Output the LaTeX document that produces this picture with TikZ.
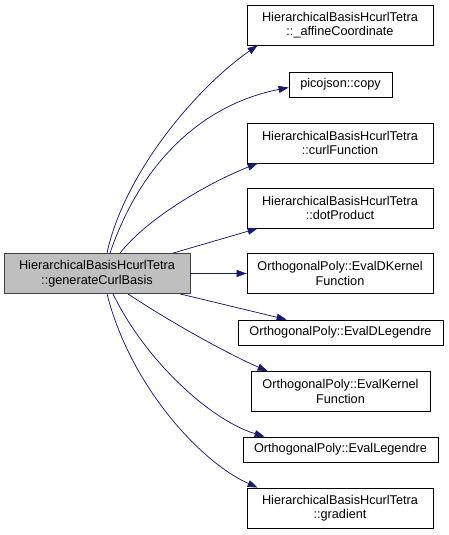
\documentclass[tikz,border=0pt]{standalone}
\usepackage{fontspec}
\setmainfont{Liberation Sans}
\usetikzlibrary{arrows.meta,positioning,calc}
\definecolor{edgeblue}{HTML}{191970}
\definecolor{rootfill}{HTML}{BFBFBF}

\begin{document}
\begin{tikzpicture}[
    x=1pt,y=-1pt,
    every node/.style={font=\fontsize{12.7}{14.5}\selectfont},
    fn/.style={draw=black,line width=0.8pt,inner sep=0pt,align=center,minimum width=186pt,minimum height=40pt},
    fnone/.style={fn,minimum height=25pt},
    arr/.style={-{Triangle[length=10pt,width=7pt]},edgeblue,line width=0.75pt}
]
\useasboundingbox (0,0) rectangle (448,535);
\node[fn,fill=rootfill,draw=black!75] (root) at (97,273.5) {HierarchicalBasisHcurlTetra\\::generateCurlBasis};
\node[fn] (affine) at (340,25) {HierarchicalBasisHcurlTetra\\::\_affineCoordinate};
\node[fnone,minimum width=103pt] (copy) at (340.5,84.5) {picojson::copy};
\node[fn] (curl) at (340,143) {HierarchicalBasisHcurlTetra\\::curlFunction};
\node[fn] (dot) at (340,208) {HierarchicalBasisHcurlTetra\\::dotProduct};
\node[fn] (dkern) at (340,273.5) {OrthogonalPoly::EvalDKernel\\Function};
\node[fnone,minimum width=205pt] (dleg) at (340.5,332.5) {OrthogonalPoly::EvalDLegendre};
\node[fn,minimum width=179pt] (kern) at (340.5,391.5) {OrthogonalPoly::EvalKernel\\Function};
\node[fnone,minimum width=195pt] (leg) at (340.5,449.5) {OrthogonalPoly::EvalLegendre};
\node[fn] (grad) at (340,508) {HierarchicalBasisHcurlTetra\\::gradient};

% calls from generateCurlBasis
\draw[arr] ([xshift=10pt]root.north) .. controls (125,170) and (200,85) .. ([xshift=11pt]affine.south west);
\draw[arr] ([xshift=13pt]root.north) .. controls (140,165) and (200,105) .. ([yshift=-3pt]copy.west);
\draw[arr] ([xshift=23pt]root.north) .. controls (150,215) and (215,180) .. ([xshift=11pt]curl.south west);
\draw[arr] ([xshift=76pt]root.north) -- ([xshift=11pt]dot.south west);
\draw[arr] (root.east) -- (dkern.west);
\draw[arr] ([xshift=83pt]root.south) -- ([xshift=49pt]dleg.north west);
\draw[arr] ([xshift=31pt]root.south) .. controls (170,322) and (230,355) .. ([xshift=17pt]kern.north west);
\draw[arr] ([xshift=16pt]root.south) .. controls (145,360) and (210,420) .. ([xshift=22pt]leg.north west);
\draw[arr] ([xshift=10pt]root.south) .. controls (130,385) and (200,462) .. ([xshift=11pt]grad.north west);
\end{tikzpicture}
\end{document}
